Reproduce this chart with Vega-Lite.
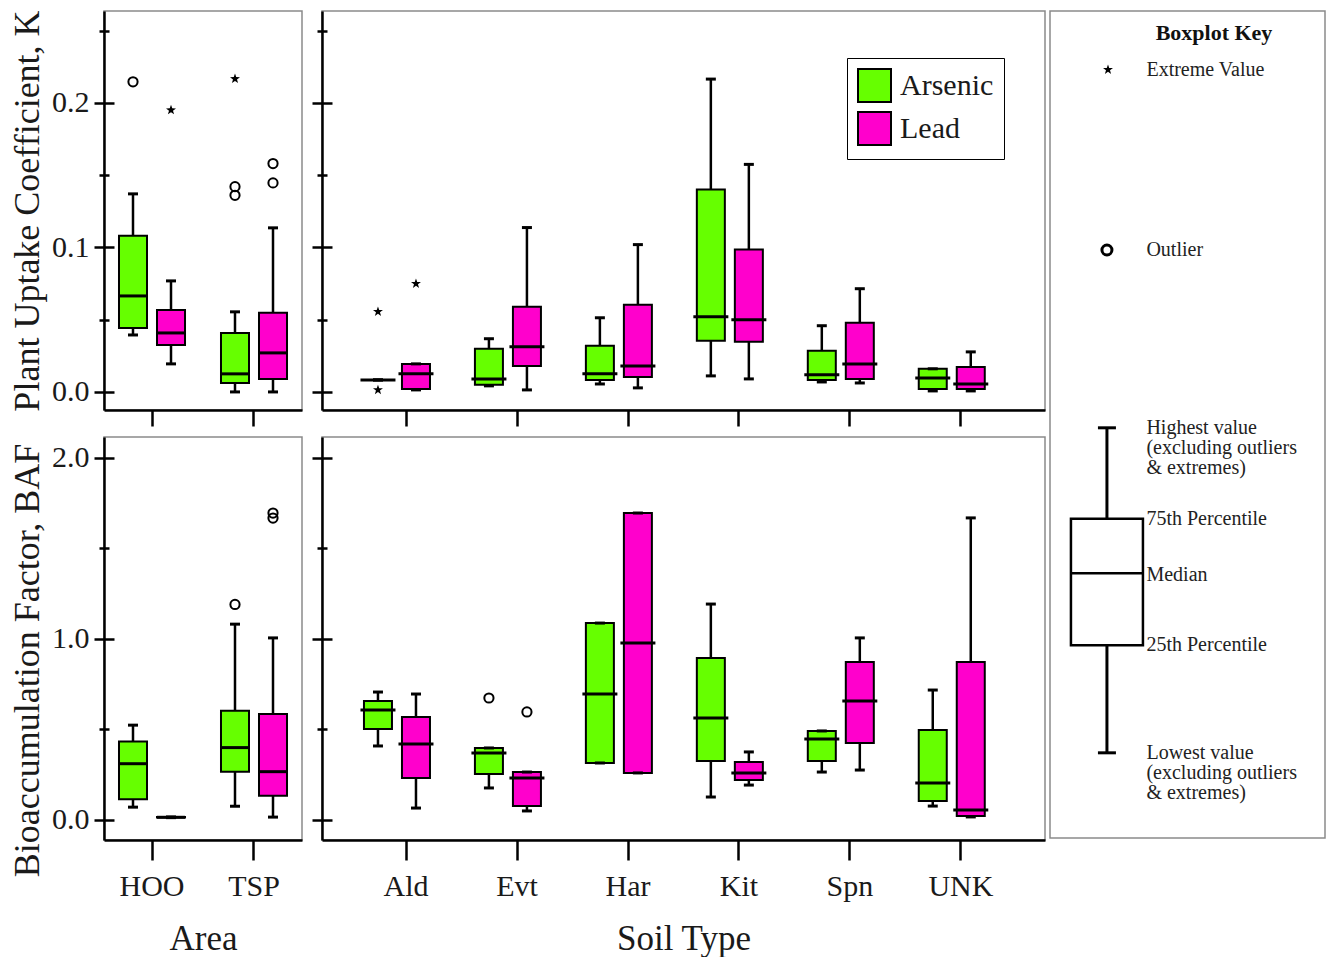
{
  "$schema": "https://vega.github.io/schema/vega-lite/v6.json",
  "background": "white",
  "padding": {"left": 8, "top": 9, "right": 0, "bottom": 0},
  "autosize": {"type": "pad"},
  "config": {
    "font": "Liberation Serif",
    "view": {"stroke": "#8a8a8a", "strokeWidth": 1.5},
    "axis": {
      "domainColor": "black", "domainWidth": 2.5, "tickColor": "black", "tickWidth": 2.5,
      "labelColor": "#1a1a1a", "titleColor": "#1a1a1a", "labelFont": "Liberation Serif", "titleFont": "Liberation Serif",
      "labelFontSize": 30, "titleFontSize": 36, "titleFontWeight": "normal", "grid": false, "labelPadding": 5, "titlePadding": 5
    },
    "text": {"font": "Liberation Serif"}
  },
  "datasets": {
    "boxes": [
      {"panel":"K-Area","cat":"HOO","metal":"Arsenic","lo":0.0394,"q1":0.0443,"med":0.0664,"q3":0.108,"hi":0.137},
      {"panel":"K-Area","cat":"HOO","metal":"Lead","lo":0.0194,"q1":0.0325,"med":0.0408,"q3":0.0567,"hi":0.0768},
      {"panel":"K-Area","cat":"TSP","metal":"Arsenic","lo":0.0,"q1":0.0062,"med":0.0125,"q3":0.0408,"hi":0.0554},
      {"panel":"K-Area","cat":"TSP","metal":"Lead","lo":0.0,"q1":0.009,"med":0.027,"q3":0.0547,"hi":0.1135},
      {"panel":"K-Soil","cat":"Ald","metal":"Arsenic","lo":0.0083,"q1":0.0083,"med":0.0083,"q3":0.0083,"hi":0.0083},
      {"panel":"K-Soil","cat":"Ald","metal":"Lead","lo":0.0014,"q1":0.0021,"med":0.0125,"q3":0.0194,"hi":0.0194},
      {"panel":"K-Soil","cat":"Evt","metal":"Arsenic","lo":0.0042,"q1":0.0049,"med":0.009,"q3":0.0298,"hi":0.0368},
      {"panel":"K-Soil","cat":"Evt","metal":"Lead","lo":0.0014,"q1":0.018,"med":0.0312,"q3":0.0589,"hi":0.1137},
      {"panel":"K-Soil","cat":"Har","metal":"Arsenic","lo":0.0055,"q1":0.0083,"med":0.0125,"q3":0.0319,"hi":0.0513},
      {"panel":"K-Soil","cat":"Har","metal":"Lead","lo":0.0028,"q1":0.0104,"med":0.018,"q3":0.0603,"hi":0.1019},
      {"panel":"K-Soil","cat":"Kit","metal":"Arsenic","lo":0.0111,"q1":0.0354,"med":0.052,"q3":0.1401,"hi":0.2164},
      {"panel":"K-Soil","cat":"Kit","metal":"Lead","lo":0.009,"q1":0.0347,"med":0.0499,"q3":0.0985,"hi":0.1574},
      {"panel":"K-Soil","cat":"Spn","metal":"Arsenic","lo":0.0069,"q1":0.0083,"med":0.0118,"q3":0.0284,"hi":0.0458},
      {"panel":"K-Soil","cat":"Spn","metal":"Lead","lo":0.0062,"q1":0.009,"med":0.0194,"q3":0.0479,"hi":0.0714},
      {"panel":"K-Soil","cat":"UNK","metal":"Arsenic","lo":0.0007,"q1":0.0021,"med":0.0097,"q3":0.016,"hi":0.016},
      {"panel":"K-Soil","cat":"UNK","metal":"Lead","lo":0.0007,"q1":0.0021,"med":0.0055,"q3":0.0173,"hi":0.0277},
      {"panel":"BAF-Area","cat":"HOO","metal":"Arsenic","lo":0.071,"q1":0.115,"med":0.311,"q3":0.434,"hi":0.524},
      {"panel":"BAF-Area","cat":"HOO","metal":"Lead","lo":0.013,"q1":0.014,"med":0.015,"q3":0.016,"hi":0.017},
      {"panel":"BAF-Area","cat":"TSP","metal":"Arsenic","lo":0.076,"q1":0.267,"med":0.40,"q3":0.604,"hi":1.082},
      {"panel":"BAF-Area","cat":"TSP","metal":"Lead","lo":0.016,"q1":0.134,"med":0.267,"q3":0.585,"hi":1.006},
      {"panel":"BAF-Soil","cat":"Ald","metal":"Arsenic","lo":0.409,"q1":0.503,"med":0.608,"q3":0.657,"hi":0.707},
      {"panel":"BAF-Soil","cat":"Ald","metal":"Lead","lo":0.066,"q1":0.232,"med":0.42,"q3":0.569,"hi":0.696},
      {"panel":"BAF-Soil","cat":"Evt","metal":"Arsenic","lo":0.177,"q1":0.254,"med":0.37,"q3":0.398,"hi":0.398},
      {"panel":"BAF-Soil","cat":"Evt","metal":"Lead","lo":0.05,"q1":0.077,"med":0.232,"q3":0.265,"hi":0.265},
      {"panel":"BAF-Soil","cat":"Har","metal":"Arsenic","lo":0.315,"q1":0.315,"med":0.696,"q3":1.088,"hi":1.088},
      {"panel":"BAF-Soil","cat":"Har","metal":"Lead","lo":0.26,"q1":0.26,"med":0.978,"q3":1.696,"hi":1.696},
      {"panel":"BAF-Soil","cat":"Kit","metal":"Arsenic","lo":0.127,"q1":0.326,"med":0.564,"q3":0.895,"hi":1.193},
      {"panel":"BAF-Soil","cat":"Kit","metal":"Lead","lo":0.193,"q1":0.221,"med":0.26,"q3":0.32,"hi":0.376},
      {"panel":"BAF-Soil","cat":"Spn","metal":"Arsenic","lo":0.265,"q1":0.326,"med":0.448,"q3":0.492,"hi":0.492},
      {"panel":"BAF-Soil","cat":"Spn","metal":"Lead","lo":0.276,"q1":0.425,"med":0.657,"q3":0.873,"hi":1.006},
      {"panel":"BAF-Soil","cat":"UNK","metal":"Arsenic","lo":0.077,"q1":0.105,"med":0.204,"q3":0.497,"hi":0.718},
      {"panel":"BAF-Soil","cat":"UNK","metal":"Lead","lo":0.017,"q1":0.022,"med":0.055,"q3":0.873,"hi":1.669}
    ],
    "pts": [
      {"panel":"K-Area","cat":"HOO","metal":"Arsenic","kind":"Outlier","v":0.2145},
      {"panel":"K-Area","cat":"HOO","metal":"Lead","kind":"Extreme","v":0.195},
      {"panel":"K-Area","cat":"TSP","metal":"Arsenic","kind":"Extreme","v":0.2166},
      {"panel":"K-Area","cat":"TSP","metal":"Arsenic","kind":"Outlier","v":0.142},
      {"panel":"K-Area","cat":"TSP","metal":"Arsenic","kind":"Outlier","v":0.136},
      {"panel":"K-Area","cat":"TSP","metal":"Lead","kind":"Outlier","v":0.158},
      {"panel":"K-Area","cat":"TSP","metal":"Lead","kind":"Outlier","v":0.1446},
      {"panel":"K-Soil","cat":"Ald","metal":"Arsenic","kind":"Extreme","v":0.0555},
      {"panel":"K-Soil","cat":"Ald","metal":"Arsenic","kind":"Extreme","v":0.0014},
      {"panel":"K-Soil","cat":"Ald","metal":"Lead","kind":"Extreme","v":0.0749},
      {"panel":"BAF-Area","cat":"TSP","metal":"Arsenic","kind":"Outlier","v":1.191},
      {"panel":"BAF-Area","cat":"TSP","metal":"Lead","kind":"Outlier","v":1.696},
      {"panel":"BAF-Area","cat":"TSP","metal":"Lead","kind":"Outlier","v":1.668},
      {"panel":"BAF-Soil","cat":"Evt","metal":"Arsenic","kind":"Outlier","v":0.674},
      {"panel":"BAF-Soil","cat":"Evt","metal":"Lead","kind":"Outlier","v":0.597}
    ],
    "keylabels": [
      {"label":"Extreme Value","v":92.9},
      {"label":"Outlier","v":71.1},
      {"label":"Highest value\n(excluding outliers\n& extremes)","v":49.6},
      {"label":"75th Percentile","v":38.6},
      {"label":"Median","v":31.8},
      {"label":"25th Percentile","v":23.3},
      {"label":"Lowest value\n(excluding outliers\n& extremes)","v":10.3}
    ],
    "keybox": [{"lo":10.3,"q1":23.3,"med":32.0,"q3":38.6,"hi":49.6}]
  },
  "spacing": 3,
  "resolve": {"scale": {"color": "independent"}},
  "hconcat": [
    {
      "columns": 2,
      "spacing": {"row": 8, "column": 7},
      "resolve": {"scale": {"color": "independent"}},
      "concat": [
        {
          "width": 198, "height": 399,
          "encoding": {
            "x": {"field":"cat","type":"nominal","scale":{"domain":["HOO","TSP"],"paddingInner":0.2,"paddingOuter":0.0706},"axis":{"title":null,"labels":false,"tickSize":16}},
            "xOffset": {"field":"metal","type":"nominal","scale":{"domain":["Arsenic","Lead"],"paddingInner":0.263,"paddingOuter":0.205}}
          },
          "resolve": {"axis": {"y": "independent"}},
          "layer": [
            {"data":{"name":"boxes"},"transform":[{"filter":"datum.panel === 'K-Area'"}],
             "mark":{"type":"rule","color":"black","strokeWidth":2.5},
             "encoding":{"y":{"field":"lo","type":"quantitative","scale":{"domain":[-0.0125,0.2635],"nice":false,"zero":false},"axis":{"orient":"left","values":[0,0.1,0.2],"format":".1f","tickSize":10,"title":"Plant Uptake Coefficient, K"}},"y2":{"field":"hi"}}},
            {"data":{"name":"boxes"},"transform":[{"filter":"datum.panel === 'K-Area'"}],
             "mark":{"type":"bar","stroke":"black","strokeWidth":2,"opacity":1},
             "encoding":{"y":{"field":"q1","type":"quantitative","scale":{"domain":[-0.0125,0.2635],"nice":false,"zero":false},"axis":{"orient":"left","values":[0,0.1,0.2],"tickSize":-10,"labels":false,"domain":false,"title":null}},"y2":{"field":"q3"},
               "color":{"field":"metal","type":"nominal","scale":{"domain":["Arsenic","Lead"],"range":["#66ff00","#ff00cc"]},"legend":null}}},
            {"data":{"name":"boxes"},"transform":[{"filter":"datum.panel === 'K-Area'"}],
             "mark":{"type":"tick","color":"black","thickness":3,"size":28,"opacity":1},
             "encoding":{"y":{"field":"med","type":"quantitative","scale":{"domain":[-0.0125,0.2635],"nice":false,"zero":false},"axis":{"orient":"left","values":[0.05,0.15,0.25],"tickSize":5,"labels":false,"domain":false,"title":null}}}},
            {"data":{"name":"boxes"},"transform":[{"filter":"datum.panel === 'K-Area'"}],
             "mark":{"type":"tick","color":"black","thickness":3,"size":10,"opacity":1},
             "encoding":{"y":{"field":"lo","type":"quantitative","scale":{"domain":[-0.0125,0.2635],"nice":false,"zero":false},"axis":{"orient":"left","values":[0.05,0.15,0.25],"tickSize":-5,"labels":false,"domain":false,"title":null}}}},
            {"data":{"name":"boxes"},"transform":[{"filter":"datum.panel === 'K-Area'"}],
             "mark":{"type":"tick","color":"black","thickness":3,"size":10,"opacity":1},
             "encoding":{"y":{"field":"hi","type":"quantitative","scale":{"domain":[-0.0125,0.2635],"nice":false,"zero":false},"axis":null}}},
            {"data":{"name":"pts"},"transform":[{"filter":"datum.panel === 'K-Area' && datum.kind === 'Outlier'"}],
             "mark":{"type":"point","shape":"circle","filled":false,"stroke":"black","strokeWidth":2,"size":85,"opacity":1},
             "encoding":{"y":{"field":"v","type":"quantitative","scale":{"domain":[-0.0125,0.2635],"nice":false,"zero":false},"axis":null}}},
            {"data":{"name":"pts"},"transform":[{"filter":"datum.panel === 'K-Area' && datum.kind === 'Extreme'"}],
             "mark":{"type":"point","shape":"M0,-1L0.235,-0.324L0.951,-0.309L0.38,0.124L0.588,0.809L0,0.4L-0.588,0.809L-0.38,0.124L-0.951,-0.309L-0.235,-0.324Z","filled":true,"color":"black","size":110,"opacity":1},
             "encoding":{"y":{"field":"v","type":"quantitative","scale":{"domain":[-0.0125,0.2635],"nice":false,"zero":false},"axis":null}}}
          ]
        },
        {
          "width": 723, "height": 399,
          "encoding": {
            "x": {"field":"cat","type":"nominal","scale":{"domain":["Ald","Evt","Har","Kit","Spn","UNK"],"paddingInner":0.1,"paddingOuter":0.308},"axis":{"title":null,"labels":false,"tickSize":16}},
            "xOffset": {"field":"metal","type":"nominal","scale":{"domain":["Arsenic","Lead"],"paddingInner":0.239,"paddingOuter":0.2055}}
          },
          "resolve": {"axis": {"y": "independent"}},
          "layer": [
            {"data":{"name":"boxes"},"transform":[{"filter":"datum.panel === 'K-Soil'"}],
             "mark":{"type":"rule","color":"black","strokeWidth":2.5},
             "encoding":{"y":{"field":"lo","type":"quantitative","scale":{"domain":[-0.0125,0.2635],"nice":false,"zero":false},"axis":{"orient":"left","values":[0,0.1,0.2],"tickSize":10,"labels":false,"title":null}},"y2":{"field":"hi"}}},
            {"data":{"name":"boxes"},"transform":[{"filter":"datum.panel === 'K-Soil'"}],
             "mark":{"type":"bar","stroke":"black","strokeWidth":2,"opacity":1},
             "encoding":{"y":{"field":"q1","type":"quantitative","scale":{"domain":[-0.0125,0.2635],"nice":false,"zero":false},"axis":{"orient":"left","values":[0,0.1,0.2],"tickSize":-10,"labels":false,"domain":false,"title":null}},"y2":{"field":"q3"},
               "color":{"field":"metal","type":"nominal","scale":{"domain":["Arsenic","Lead"],"range":["#66ff00","#ff00cc"]},
                 "legend":{"orient":"none","legendX":525,"legendY":47,"title":null,"strokeColor":"black","fillColor":"white","padding":10,"symbolType":"square","symbolSize":1089,"symbolStrokeColor":"black","symbolStrokeWidth":2,"symbolOpacity":1,"labelFontSize":30,"labelFont":"Liberation Serif","labelColor":"#1a1a1a","labelOffset":8,"rowPadding":2}}}},
            {"data":{"name":"boxes"},"transform":[{"filter":"datum.panel === 'K-Soil'"}],
             "mark":{"type":"tick","color":"black","thickness":3,"size":35,"opacity":1},
             "encoding":{"y":{"field":"med","type":"quantitative","scale":{"domain":[-0.0125,0.2635],"nice":false,"zero":false},"axis":{"orient":"left","values":[0.05,0.15,0.25],"tickSize":5,"labels":false,"domain":false,"title":null}}}},
            {"data":{"name":"boxes"},"transform":[{"filter":"datum.panel === 'K-Soil'"}],
             "mark":{"type":"tick","color":"black","thickness":3,"size":10,"opacity":1},
             "encoding":{"y":{"field":"lo","type":"quantitative","scale":{"domain":[-0.0125,0.2635],"nice":false,"zero":false},"axis":{"orient":"left","values":[0.05,0.15,0.25],"tickSize":-5,"labels":false,"domain":false,"title":null}}}},
            {"data":{"name":"boxes"},"transform":[{"filter":"datum.panel === 'K-Soil'"}],
             "mark":{"type":"tick","color":"black","thickness":3,"size":10,"opacity":1},
             "encoding":{"y":{"field":"hi","type":"quantitative","scale":{"domain":[-0.0125,0.2635],"nice":false,"zero":false},"axis":null}}},
            {"data":{"name":"pts"},"transform":[{"filter":"datum.panel === 'K-Soil' && datum.kind === 'Extreme'"}],
             "mark":{"type":"point","shape":"M0,-1L0.235,-0.324L0.951,-0.309L0.38,0.124L0.588,0.809L0,0.4L-0.588,0.809L-0.38,0.124L-0.951,-0.309L-0.235,-0.324Z","filled":true,"color":"black","size":110,"opacity":1},
             "encoding":{"y":{"field":"v","type":"quantitative","scale":{"domain":[-0.0125,0.2635],"nice":false,"zero":false},"axis":null}}}
          ]
        },
        {
          "width": 198, "height": 403,
          "encoding": {
            "x": {"field":"cat","type":"nominal","scale":{"domain":["HOO","TSP"],"paddingInner":0.2,"paddingOuter":0.0706},"axis":{"title":"Area","labelAngle":0,"tickSize":20,"labelPadding":11,"titlePadding":20,"titleFontSize":35}},
            "xOffset": {"field":"metal","type":"nominal","scale":{"domain":["Arsenic","Lead"],"paddingInner":0.263,"paddingOuter":0.205}}
          },
          "resolve": {"axis": {"y": "independent"}},
          "layer": [
            {"data":{"name":"boxes"},"transform":[{"filter":"datum.panel === 'BAF-Area'"}],
             "mark":{"type":"rule","color":"black","strokeWidth":2.5},
             "encoding":{"y":{"field":"lo","type":"quantitative","scale":{"domain":[-0.1105,2.116],"nice":false,"zero":false},"axis":{"orient":"left","values":[0,1,2],"format":".1f","tickSize":10,"title":"Bioaccumulation Factor, BAF","titleY":223}},"y2":{"field":"hi"}}},
            {"data":{"name":"boxes"},"transform":[{"filter":"datum.panel === 'BAF-Area'"}],
             "mark":{"type":"bar","stroke":"black","strokeWidth":2,"opacity":1},
             "encoding":{"y":{"field":"q1","type":"quantitative","scale":{"domain":[-0.1105,2.116],"nice":false,"zero":false},"axis":{"orient":"left","values":[0,1,2],"tickSize":-10,"labels":false,"domain":false,"title":null}},"y2":{"field":"q3"},
               "color":{"field":"metal","type":"nominal","scale":{"domain":["Arsenic","Lead"],"range":["#66ff00","#ff00cc"]},"legend":null}}},
            {"data":{"name":"boxes"},"transform":[{"filter":"datum.panel === 'BAF-Area'"}],
             "mark":{"type":"tick","color":"black","thickness":3,"size":28,"opacity":1},
             "encoding":{"y":{"field":"med","type":"quantitative","scale":{"domain":[-0.1105,2.116],"nice":false,"zero":false},"axis":{"orient":"left","values":[0.5,1.5],"tickSize":5,"labels":false,"domain":false,"title":null}}}},
            {"data":{"name":"boxes"},"transform":[{"filter":"datum.panel === 'BAF-Area'"}],
             "mark":{"type":"tick","color":"black","thickness":3,"size":10,"opacity":1},
             "encoding":{"y":{"field":"lo","type":"quantitative","scale":{"domain":[-0.1105,2.116],"nice":false,"zero":false},"axis":{"orient":"left","values":[0.5,1.5],"tickSize":-5,"labels":false,"domain":false,"title":null}}}},
            {"data":{"name":"boxes"},"transform":[{"filter":"datum.panel === 'BAF-Area'"}],
             "mark":{"type":"tick","color":"black","thickness":3,"size":10,"opacity":1},
             "encoding":{"y":{"field":"hi","type":"quantitative","scale":{"domain":[-0.1105,2.116],"nice":false,"zero":false},"axis":null}}},
            {"data":{"name":"pts"},"transform":[{"filter":"datum.panel === 'BAF-Area' && datum.kind === 'Outlier'"}],
             "mark":{"type":"point","shape":"circle","filled":false,"stroke":"black","strokeWidth":2,"size":85,"opacity":1},
             "encoding":{"y":{"field":"v","type":"quantitative","scale":{"domain":[-0.1105,2.116],"nice":false,"zero":false},"axis":null}}}
          ]
        },
        {
          "width": 723, "height": 403,
          "encoding": {
            "x": {"field":"cat","type":"nominal","scale":{"domain":["Ald","Evt","Har","Kit","Spn","UNK"],"paddingInner":0.1,"paddingOuter":0.308},"axis":{"title":"Soil Type","labelAngle":0,"tickSize":20,"labelPadding":11,"titlePadding":20,"titleFontSize":35}},
            "xOffset": {"field":"metal","type":"nominal","scale":{"domain":["Arsenic","Lead"],"paddingInner":0.239,"paddingOuter":0.2055}}
          },
          "resolve": {"axis": {"y": "independent"}},
          "layer": [
            {"data":{"name":"boxes"},"transform":[{"filter":"datum.panel === 'BAF-Soil'"}],
             "mark":{"type":"rule","color":"black","strokeWidth":2.5},
             "encoding":{"y":{"field":"lo","type":"quantitative","scale":{"domain":[-0.1105,2.116],"nice":false,"zero":false},"axis":{"orient":"left","values":[0,1,2],"tickSize":10,"labels":false,"title":null}},"y2":{"field":"hi"}}},
            {"data":{"name":"boxes"},"transform":[{"filter":"datum.panel === 'BAF-Soil'"}],
             "mark":{"type":"bar","stroke":"black","strokeWidth":2,"opacity":1},
             "encoding":{"y":{"field":"q1","type":"quantitative","scale":{"domain":[-0.1105,2.116],"nice":false,"zero":false},"axis":{"orient":"left","values":[0,1,2],"tickSize":-10,"labels":false,"domain":false,"title":null}},"y2":{"field":"q3"},
               "color":{"field":"metal","type":"nominal","scale":{"domain":["Arsenic","Lead"],"range":["#66ff00","#ff00cc"]},"legend":null}}},
            {"data":{"name":"boxes"},"transform":[{"filter":"datum.panel === 'BAF-Soil'"}],
             "mark":{"type":"tick","color":"black","thickness":3,"size":35,"opacity":1},
             "encoding":{"y":{"field":"med","type":"quantitative","scale":{"domain":[-0.1105,2.116],"nice":false,"zero":false},"axis":{"orient":"left","values":[0.5,1.5],"tickSize":5,"labels":false,"domain":false,"title":null}}}},
            {"data":{"name":"boxes"},"transform":[{"filter":"datum.panel === 'BAF-Soil'"}],
             "mark":{"type":"tick","color":"black","thickness":3,"size":10,"opacity":1},
             "encoding":{"y":{"field":"lo","type":"quantitative","scale":{"domain":[-0.1105,2.116],"nice":false,"zero":false},"axis":{"orient":"left","values":[0.5,1.5],"tickSize":-5,"labels":false,"domain":false,"title":null}}}},
            {"data":{"name":"boxes"},"transform":[{"filter":"datum.panel === 'BAF-Soil'"}],
             "mark":{"type":"tick","color":"black","thickness":3,"size":10,"opacity":1},
             "encoding":{"y":{"field":"hi","type":"quantitative","scale":{"domain":[-0.1105,2.116],"nice":false,"zero":false},"axis":null}}},
            {"data":{"name":"pts"},"transform":[{"filter":"datum.panel === 'BAF-Soil' && datum.kind === 'Outlier'"}],
             "mark":{"type":"point","shape":"circle","filled":false,"stroke":"black","strokeWidth":2,"size":85,"opacity":1},
             "encoding":{"y":{"field":"v","type":"quantitative","scale":{"domain":[-0.1105,2.116],"nice":false,"zero":false},"axis":null}}}
          ]
        }
      ]
    },
    {
      "width": 275, "height": 827,
      "layer": [
        {"data":{"values":[{"label":"Boxplot Key","v":97.3}]},
         "mark":{"type":"text","fontWeight":"bold","fontSize":22,"align":"center","baseline":"middle","color":"#111111"},
         "encoding":{"x":{"datum":60,"type":"quantitative","scale":{"domain":[0,100],"nice":false,"zero":false},"axis":null},
                     "y":{"field":"v","type":"quantitative","scale":{"domain":[0,100],"nice":false,"zero":false},"axis":null},
                     "text":{"field":"label"}}},
        {"data":{"name":"keylabels"},
         "mark":{"type":"text","align":"left","baseline":"top","dy":-10,"fontSize":20,"lineBreak":"\n","lineHeight":20,"color":"#222222"},
         "encoding":{"x":{"datum":34.5,"type":"quantitative","scale":{"domain":[0,100],"nice":false,"zero":false},"axis":null},
                     "y":{"field":"v","type":"quantitative","scale":{"domain":[0,100],"nice":false,"zero":false},"axis":null},
                     "text":{"field":"label"}}},
        {"data":{"values":[{"v":92.9}]},
         "mark":{"type":"point","shape":"M0,-1L0.235,-0.324L0.951,-0.309L0.38,0.124L0.588,0.809L0,0.4L-0.588,0.809L-0.38,0.124L-0.951,-0.309L-0.235,-0.324Z","filled":true,"color":"black","size":110,"opacity":1},
         "encoding":{"x":{"datum":20,"type":"quantitative","scale":{"domain":[0,100],"nice":false,"zero":false},"axis":null},
                     "y":{"field":"v","type":"quantitative","scale":{"domain":[0,100],"nice":false,"zero":false},"axis":null}}},
        {"data":{"values":[{"v":71.1}]},
         "mark":{"type":"point","shape":"circle","filled":false,"stroke":"black","strokeWidth":3,"size":100,"opacity":1},
         "encoding":{"x":{"datum":19.6,"type":"quantitative","scale":{"domain":[0,100],"nice":false,"zero":false},"axis":null},
                     "y":{"field":"v","type":"quantitative","scale":{"domain":[0,100],"nice":false,"zero":false},"axis":null}}},
        {"data":{"name":"keybox"},
         "mark":{"type":"rule","color":"black","strokeWidth":3},
         "encoding":{"x":{"datum":19.6,"type":"quantitative","scale":{"domain":[0,100],"nice":false,"zero":false},"axis":null},
                     "y":{"field":"lo","type":"quantitative","scale":{"domain":[0,100],"nice":false,"zero":false},"axis":null},
                     "y2":{"field":"hi"}}},
        {"data":{"name":"keybox"},
         "mark":{"type":"bar","fill":"white","stroke":"black","strokeWidth":2.5,"size":72,"orient":"vertical"},
         "encoding":{"x":{"datum":19.6,"type":"quantitative","scale":{"domain":[0,100],"nice":false,"zero":false},"axis":null},
                     "y":{"field":"q1","type":"quantitative","scale":{"domain":[0,100],"nice":false,"zero":false},"axis":null},
                     "y2":{"field":"q3"}}},
        {"data":{"name":"keybox"},
         "mark":{"type":"tick","orient":"horizontal","color":"black","thickness":2.5,"size":72,"opacity":1},
         "encoding":{"x":{"datum":19.6,"type":"quantitative","scale":{"domain":[0,100],"nice":false,"zero":false},"axis":null},
                     "y":{"field":"med","type":"quantitative","scale":{"domain":[0,100],"nice":false,"zero":false},"axis":null}}},
        {"data":{"name":"keybox"},
         "mark":{"type":"tick","orient":"horizontal","color":"black","thickness":3,"size":18,"opacity":1},
         "encoding":{"x":{"datum":19.6,"type":"quantitative","scale":{"domain":[0,100],"nice":false,"zero":false},"axis":null},
                     "y":{"field":"lo","type":"quantitative","scale":{"domain":[0,100],"nice":false,"zero":false},"axis":null}}},
        {"data":{"name":"keybox"},
         "mark":{"type":"tick","orient":"horizontal","color":"black","thickness":3,"size":18,"opacity":1},
         "encoding":{"x":{"datum":19.6,"type":"quantitative","scale":{"domain":[0,100],"nice":false,"zero":false},"axis":null},
                     "y":{"field":"hi","type":"quantitative","scale":{"domain":[0,100],"nice":false,"zero":false},"axis":null}}}
      ]
    }
  ]
}
